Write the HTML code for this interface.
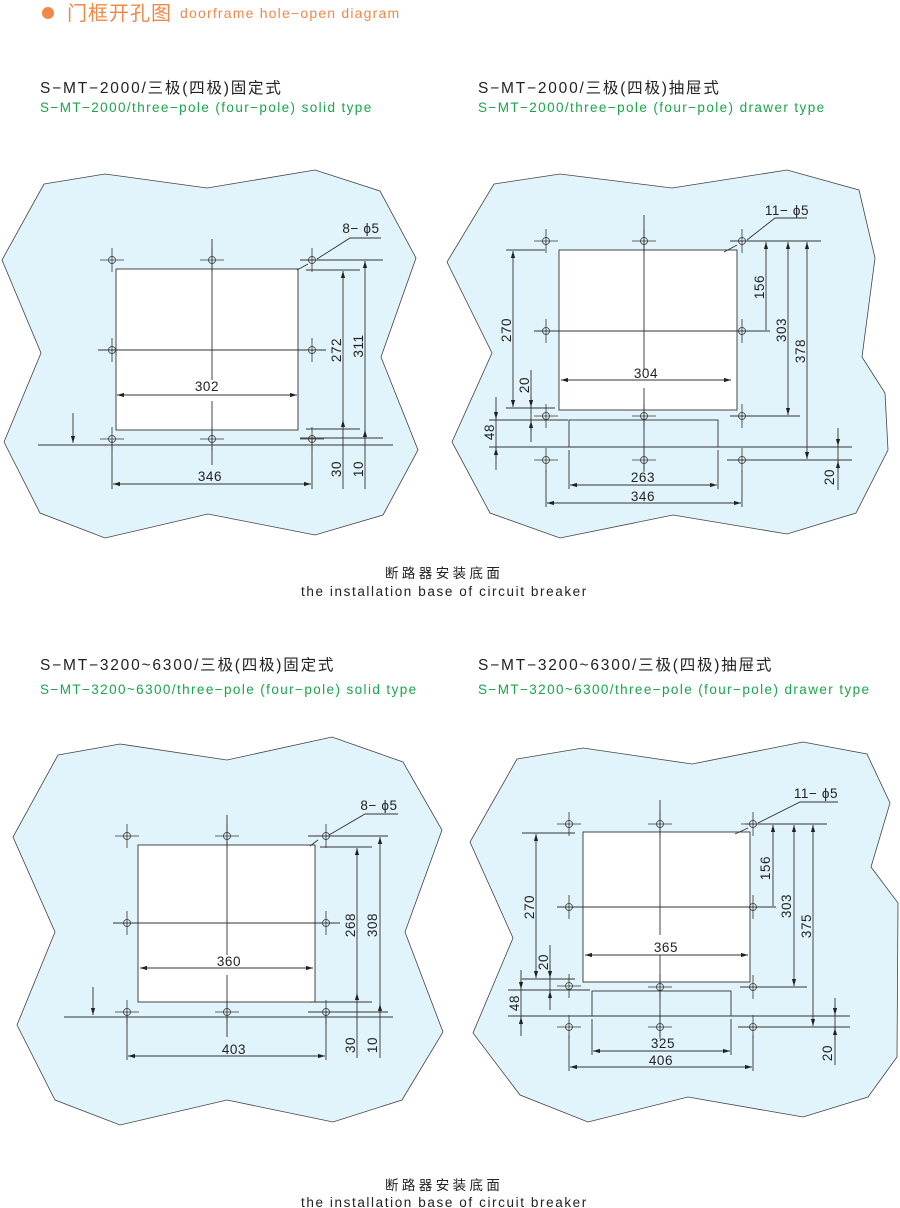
<!DOCTYPE html>
<html><head><meta charset="utf-8"><style>
html,body{margin:0;padding:0;background:#fff;}
svg{display:block;}
.t{font-family:"Liberation Sans","Noto Sans CJK SC",sans-serif;}
</style></head><body>
<svg width="900" height="1208" viewBox="0 0 900 1208" xmlns="http://www.w3.org/2000/svg" class="t">
<defs>
<marker id="a" viewBox="0 0 10 10" refX="10" refY="5" markerWidth="7" markerHeight="7" orient="auto-start-reverse" markerUnits="userSpaceOnUse"><path d="M0,2 L10,5 L0,8 z" fill="#222"/></marker>
<g id="h" stroke="#333" stroke-width="0.8" fill="none"><circle r="3.5"/><line x1="-12" x2="12" y1="0" y2="0"/><line x1="0" x2="0" y1="-12" y2="12"/></g>
</defs>
<!-- header -->
<circle cx="48" cy="13" r="6" fill="#f0884a"/>
<text x="67" y="20" font-size="20" fill="#f0884a" letter-spacing="1">门框开孔图</text>
<text x="180" y="18" font-size="14" fill="#f0884a" letter-spacing="1.2">doorframe hole−open diagram</text>

<g font-size="15.5" fill="#222" letter-spacing="1.8">
<text x="40" y="93">S−MT−2000/三极(四极)固定式</text>
<text x="478" y="93">S−MT−2000/三极(四极)抽屉式</text>
<text x="40" y="670">S−MT−3200~6300/三极(四极)固定式</text>
<text x="478" y="670">S−MT−3200~6300/三极(四极)抽屉式</text>
</g>
<g font-size="13.5" fill="#1aa54a" letter-spacing="1.4">
<text x="40" y="112">S−MT−2000/three−pole (four−pole) solid type</text>
<text x="478" y="112">S−MT−2000/three−pole (four−pole) drawer type</text>
<text x="40" y="694">S−MT−3200~6300/three−pole (four−pole) solid type</text>
<text x="478" y="694">S−MT−3200~6300/three−pole (four−pole) drawer type</text>
</g>
<g font-size="13.5" fill="#222">
<text x="385" y="578" letter-spacing="3.4">断路器安装底面</text>
<text x="301" y="596" letter-spacing="1.6">the installation base of circuit breaker</text>
<text x="385" y="1190" letter-spacing="3.4">断路器安装底面</text>
<text x="301" y="1207" letter-spacing="1.6">the installation base of circuit breaker</text>
</g>

<g stroke="#444" stroke-width="0.8" fill="#e1f4fb">
<polygon points="44,184 105,174 207,188 315,170 380,191 416,258 381,357 418,450 383,515 315,535 208,514 105,538 40,513 4,442 41,353 2,260"/>
<polygon points="494,184 560,174 672,188 787,170 859,190 875,258 862,357 885,393 888,450 856,513 787,534 673,515 560,538 490,513 452,442 492,353 447,262"/>
<polygon points="58,755 120,744 227,760 332,737 403,762 442,830 405,932 443,1032 402,1100 333,1122 227,1100 120,1125 55,1100 17,1025 55,932 13,837"/>
<polygon points="517,759 583,748 692,764 803,742 867,754 890,803 871,867 898,903 897,1057 868,1097 803,1117 688,1097 588,1122 520,1095 473,1033 513,938 470,842"/>
</g>

<g stroke="#333" stroke-width="0.9" fill="none">
<!-- Diagram 1 -->
<rect x="116" y="269" width="182" height="161" fill="#fff"/>
<line x1="212" y1="239" x2="212" y2="380"/><line x1="212" y1="401" x2="212" y2="465"/>
<line x1="98" y1="350" x2="326" y2="350"/>
<line x1="38" y1="445" x2="393" y2="445"/>
<line x1="73" y1="413" x2="73" y2="443" marker-end="url(#a)"/>
<line x1="117" y1="395" x2="297" y2="395" marker-start="url(#a)" marker-end="url(#a)"/>
<line x1="112" y1="440" x2="112" y2="489"/><line x1="312" y1="440" x2="312" y2="489"/>
<line x1="113" y1="484" x2="311" y2="484" marker-start="url(#a)" marker-end="url(#a)"/>
<line x1="300" y1="260" x2="383" y2="260"/><line x1="306" y1="270" x2="360" y2="270"/>
<line x1="306" y1="429" x2="360" y2="429"/><line x1="300" y1="438" x2="383" y2="438"/>
<line x1="343" y1="271" x2="343" y2="489" marker-start="url(#a)"/>
<line x1="343" y1="428" x2="343" y2="420" marker-end="url(#a)"/>
<line x1="365" y1="261" x2="365" y2="489" marker-start="url(#a)"/>
<line x1="365" y1="437" x2="365" y2="430" marker-end="url(#a)"/>
<polyline points="381,238 350,238 317,259"/><line x1="297" y1="270" x2="308" y2="264"/>

<!-- Diagram 2 -->
<rect x="559" y="250" width="178" height="160" fill="#fff"/>
<rect x="569" y="420" width="149" height="27"/>
<line x1="644" y1="215" x2="644" y2="370"/><line x1="644" y1="388" x2="644" y2="470"/>
<line x1="534" y1="331" x2="770" y2="331"/>
<line x1="489" y1="420" x2="568" y2="420"/><line x1="489" y1="447" x2="852" y2="447"/>
<line x1="506" y1="250" x2="545" y2="250"/><line x1="506" y1="408" x2="555" y2="408"/>
<line x1="513" y1="251" x2="513" y2="407" marker-start="url(#a)" marker-end="url(#a)"/>
<line x1="531" y1="370" x2="531" y2="442"/><line x1="531" y1="395" x2="531" y2="407" marker-end="url(#a)"/><line x1="531" y1="432" x2="531" y2="421" marker-end="url(#a)"/>
<line x1="496" y1="397" x2="496" y2="470"/><line x1="496" y1="410" x2="496" y2="419" marker-end="url(#a)"/><line x1="496" y1="458" x2="496" y2="448" marker-end="url(#a)"/>
<line x1="561" y1="380" x2="731" y2="380" marker-start="url(#a)" marker-end="url(#a)"/>
<line x1="569" y1="450" x2="569" y2="489"/><line x1="718" y1="450" x2="718" y2="489"/>
<line x1="570" y1="485" x2="717" y2="485" marker-start="url(#a)" marker-end="url(#a)"/>
<line x1="546" y1="470" x2="546" y2="507"/><line x1="742" y1="470" x2="742" y2="507"/>
<line x1="547" y1="503" x2="741" y2="503" marker-start="url(#a)" marker-end="url(#a)"/>
<line x1="730" y1="241" x2="821" y2="241"/><line x1="730" y1="416" x2="800" y2="416"/><line x1="727" y1="460" x2="852" y2="460"/>
<line x1="766" y1="242" x2="766" y2="330" marker-start="url(#a)"/>
<line x1="788" y1="242" x2="788" y2="415" marker-start="url(#a)" marker-end="url(#a)"/>
<line x1="807" y1="242" x2="807" y2="459" marker-start="url(#a)" marker-end="url(#a)"/>
<line x1="838" y1="428" x2="838" y2="490"/><line x1="838" y1="437" x2="838" y2="446" marker-end="url(#a)"/><line x1="838" y1="472" x2="838" y2="461" marker-end="url(#a)"/>
<polyline points="807,218 775,218 747,240"/><line x1="724" y1="252" x2="737" y2="245"/>

<!-- Diagram 3 -->
<rect x="138" y="845" width="177" height="157" fill="#fff"/>
<line x1="227" y1="815" x2="227" y2="955"/><line x1="227" y1="975" x2="227" y2="1037"/>
<line x1="113" y1="923" x2="340" y2="923"/>
<line x1="64" y1="1017" x2="393" y2="1017"/>
<line x1="93" y1="987" x2="93" y2="1015" marker-end="url(#a)"/>
<line x1="140" y1="968" x2="313" y2="968" marker-start="url(#a)" marker-end="url(#a)"/>
<line x1="127" y1="1012" x2="127" y2="1060"/><line x1="326" y1="1012" x2="326" y2="1060"/>
<line x1="128" y1="1056" x2="325" y2="1056" marker-start="url(#a)" marker-end="url(#a)"/>
<line x1="308" y1="836" x2="388" y2="836"/><line x1="320" y1="847" x2="372" y2="847"/>
<line x1="310" y1="1002" x2="372" y2="1002"/><line x1="308" y1="1012" x2="388" y2="1012"/>
<line x1="357" y1="848" x2="357" y2="1058" marker-start="url(#a)"/>
<line x1="357" y1="1001" x2="357" y2="993" marker-end="url(#a)"/>
<line x1="380" y1="837" x2="380" y2="1058" marker-start="url(#a)"/>
<line x1="380" y1="1011" x2="380" y2="1004" marker-end="url(#a)"/>
<polyline points="398,814 365,814 329,835"/><line x1="310" y1="846" x2="318" y2="840"/>

<!-- Diagram 4 -->
<rect x="583" y="832" width="167" height="150" fill="#fff"/>
<rect x="592" y="991" width="139" height="25"/>
<line x1="660" y1="800" x2="660" y2="935"/><line x1="660" y1="955" x2="660" y2="1037"/>
<line x1="557" y1="907" x2="776" y2="907"/>
<line x1="508" y1="990" x2="590" y2="990"/><line x1="508" y1="1016" x2="850" y2="1016"/>
<line x1="522" y1="833" x2="575" y2="833"/><line x1="522" y1="979" x2="575" y2="979"/>
<line x1="536" y1="834" x2="536" y2="978" marker-start="url(#a)" marker-end="url(#a)"/>
<line x1="550" y1="945" x2="550" y2="1010"/><line x1="550" y1="965" x2="550" y2="978" marker-end="url(#a)"/><line x1="550" y1="1000" x2="550" y2="991" marker-end="url(#a)"/>
<line x1="521" y1="970" x2="521" y2="1036"/><line x1="521" y1="978" x2="521" y2="989" marker-end="url(#a)"/><line x1="521" y1="1027" x2="521" y2="1017" marker-end="url(#a)"/>
<line x1="585" y1="955" x2="748" y2="955" marker-start="url(#a)" marker-end="url(#a)"/>
<line x1="592" y1="1019" x2="592" y2="1055"/><line x1="731" y1="1019" x2="731" y2="1055"/>
<line x1="593" y1="1051" x2="730" y2="1051" marker-start="url(#a)" marker-end="url(#a)"/>
<line x1="569" y1="1035" x2="569" y2="1071"/><line x1="753" y1="1035" x2="753" y2="1071"/>
<line x1="570" y1="1067" x2="752" y2="1067" marker-start="url(#a)" marker-end="url(#a)"/>
<line x1="745" y1="824" x2="827" y2="824"/><line x1="753" y1="907" x2="776" y2="907"/><line x1="740" y1="987" x2="807" y2="987"/><line x1="738" y1="1027" x2="850" y2="1027"/>
<line x1="773" y1="825" x2="773" y2="906" marker-start="url(#a)"/>
<line x1="794" y1="825" x2="794" y2="986" marker-start="url(#a)" marker-end="url(#a)"/>
<line x1="813" y1="825" x2="813" y2="1026" marker-start="url(#a)" marker-end="url(#a)"/>
<line x1="835" y1="998" x2="835" y2="1065"/><line x1="835" y1="1005" x2="835" y2="1015" marker-end="url(#a)"/><line x1="835" y1="1040" x2="835" y2="1028" marker-end="url(#a)"/>
<polyline points="838,802 800,802 758,823"/><line x1="735" y1="834" x2="748" y2="828"/>
</g>

<!-- holes -->
<use href="#h" x="112" y="260"/><use href="#h" x="212" y="260"/><use href="#h" x="312" y="260"/>
<use href="#h" x="112" y="350"/><use href="#h" x="312" y="350"/>
<use href="#h" x="112" y="439"/><use href="#h" x="212" y="439"/><use href="#h" x="312" y="439"/>

<use href="#h" x="546" y="241"/><use href="#h" x="644" y="241"/><use href="#h" x="742" y="241"/>
<use href="#h" x="546" y="331"/><use href="#h" x="742" y="331"/>
<use href="#h" x="546" y="416"/><use href="#h" x="644" y="416"/><use href="#h" x="742" y="416"/>
<use href="#h" x="546" y="460"/><use href="#h" x="644" y="460"/><use href="#h" x="742" y="460"/>

<use href="#h" x="127" y="836"/><use href="#h" x="227" y="836"/><use href="#h" x="326" y="836"/>
<use href="#h" x="127" y="923"/><use href="#h" x="326" y="923"/>
<use href="#h" x="127" y="1012"/><use href="#h" x="227" y="1012"/><use href="#h" x="326" y="1012"/>

<use href="#h" x="569" y="824"/><use href="#h" x="660" y="824"/><use href="#h" x="753" y="824"/>
<use href="#h" x="569" y="907"/><use href="#h" x="753" y="907"/>
<use href="#h" x="569" y="986"/><use href="#h" x="660" y="987"/><use href="#h" x="753" y="987"/>
<use href="#h" x="569" y="1027"/><use href="#h" x="660" y="1027"/><use href="#h" x="753" y="1027"/>

<!-- dimension text -->
<g font-size="13.5" fill="#222" text-anchor="middle" letter-spacing="0.6">
<text x="207" y="391">302</text>
<text x="210" y="481">346</text>
<text x="361" y="233">8− ϕ5</text>
<text transform="translate(341,350) rotate(-90)">272</text>
<text transform="translate(363,346) rotate(-90)">311</text>
<text transform="translate(341,469) rotate(-90)">30</text>
<text transform="translate(363,469) rotate(-90)">10</text>

<text x="646" y="378">304</text>
<text x="643" y="482">263</text>
<text x="643" y="501">346</text>
<text x="787" y="215">11− ϕ5</text>
<text transform="translate(511,330) rotate(-90)">270</text>
<text transform="translate(529,385) rotate(-90)">20</text>
<text transform="translate(494,432) rotate(-90)">48</text>
<text transform="translate(764,287) rotate(-90)">156</text>
<text transform="translate(786,330) rotate(-90)">303</text>
<text transform="translate(805,351) rotate(-90)">378</text>
<text transform="translate(834,477) rotate(-90)">20</text>

<text x="229" y="966">360</text>
<text x="234" y="1054">403</text>
<text x="379" y="810">8− ϕ5</text>
<text transform="translate(355,925) rotate(-90)">268</text>
<text transform="translate(377,925) rotate(-90)">308</text>
<text transform="translate(355,1045) rotate(-90)">30</text>
<text transform="translate(377,1045) rotate(-90)">10</text>

<text x="666" y="952">365</text>
<text x="663" y="1048">325</text>
<text x="661" y="1065">406</text>
<text x="816" y="798">11− ϕ5</text>
<text transform="translate(534,907) rotate(-90)">270</text>
<text transform="translate(548,962) rotate(-90)">20</text>
<text transform="translate(519,1003) rotate(-90)">48</text>
<text transform="translate(770,868) rotate(-90)">156</text>
<text transform="translate(791,906) rotate(-90)">303</text>
<text transform="translate(811,926) rotate(-90)">375</text>
<text transform="translate(832,1053) rotate(-90)">20</text>
</g>
</svg>
</body></html>
